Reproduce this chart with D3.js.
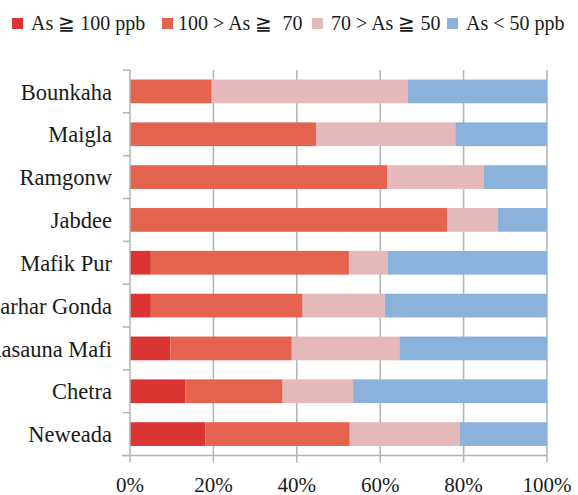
<!DOCTYPE html>
<html>
<head>
<meta charset="utf-8">
<script src="https://cdn.jsdelivr.net/npm/d3@7"></script>
<style>
html,body{margin:0;padding:0;background:#fff;}
svg{display:block;}
</style>
</head>
<body>
<svg id="chart" width="578" height="495"></svg>
<script>
const categories = ["Bounkaha","Maigla","Ramgonw","Jabdee","Mafik Pur","Sarhar Gonda","Rasauna Mafi","Chetra","Neweada"];
const seriesNames = ["As \u2267 100 ppb","100 > As \u2267  70","70 > As \u2267 50","As < 50 ppb"];
const seriesColors = ["#db3533","#e3634f","#e5b8b9","#8bb2da"];
const s1 = [0, 0, 0, 0, 5.0, 5.0, 9.7, 13.3, 18.1];
const s2 = [19.6, 44.6, 61.7, 76.1, 47.5, 36.4, 29.1, 23.3, 34.6];
const s3 = [47.0, 33.4, 23.1, 12.1, 9.3, 19.7, 25.8, 16.9, 26.3];
const s4 = [33.4, 22.0, 15.2, 11.8, 38.2, 38.9, 35.4, 46.5, 21.0];
const xTicks = [0, 20, 40, 60, 80, 100];

(function () {
const table = categories.map((c, i) => ({cat: c, k0: s1[i], k1: s2[i], k2: s3[i], k3: s4[i]}));
const keys = ["k0","k1","k2","k3"];
const stacked = d3.stack().keys(keys)(table);

const svg = d3.select("#chart");
const mLeft = 130, mRight = 547, mTop = 70, mBottom = 455.5;
const textColor = "#1a1a1a";
const fontFam = "Liberation Serif";

const x = d3.scaleLinear().domain([0, 100]).range([mLeft, mRight]);
const y = d3.scaleBand().domain(categories).range([mTop, mBottom]).paddingInner(0.446).paddingOuter(0.223);

const gridColor = "#b3b3b3";

// gridlines
svg.append("g").selectAll("line").data(xTicks.filter(d => d > 0)).join("line")
  .attr("x1", d => x(d)).attr("x2", d => x(d))
  .attr("y1", mTop).attr("y2", mBottom)
  .attr("stroke", gridColor).attr("stroke-width", 1.5);

// bars
svg.append("g").selectAll("g").data(stacked).join("g")
  .attr("fill", (d, i) => seriesColors[i])
  .selectAll("rect").data(d => d).join("rect")
  .attr("x", d => x(d[0]))
  .attr("width", d => x(d[1]) - x(d[0]))
  .attr("y", d => y(d.data.cat))
  .attr("height", y.bandwidth());

// y axis
const yAxis = svg.append("g").attr("transform", `translate(${mLeft},0)`);
yAxis.append("line").attr("x1", 0).attr("x2", 0).attr("y1", mTop).attr("y2", mBottom)
  .attr("stroke", gridColor).attr("stroke-width", 1.5);
const step = y.step();
const bounds = d3.range(categories.length + 1).map(i => mTop + i * step);
yAxis.selectAll("line.t").data(bounds).join("line").attr("class","t")
  .attr("x1", -7).attr("x2", 0).attr("y1", d => d).attr("y2", d => d)
  .attr("stroke", gridColor).attr("stroke-width", 1.5);
yAxis.selectAll("text").data(categories).join("text")
  .attr("x", -18)
  .attr("y", d => y(d) + y.bandwidth() / 2)
  .attr("dy", "0.36em")
  .attr("text-anchor", "end")
  .attr("font-family", fontFam)
  .attr("fill", textColor)
  .attr("font-size", "22.5px")
  .text(d => d);

// x axis
const xAxis = svg.append("g").attr("transform", `translate(0,${mBottom})`);
xAxis.append("line").attr("x1", mLeft - 8).attr("x2", mRight).attr("y1", 0).attr("y2", 0)
  .attr("stroke", gridColor).attr("stroke-width", 1.5);
xAxis.selectAll("line.t").data(xTicks).join("line").attr("class","t")
  .attr("x1", d => x(d)).attr("x2", d => x(d)).attr("y1", 0).attr("y2", 7)
  .attr("stroke", gridColor).attr("stroke-width", 1.5);
xAxis.selectAll("text").data(xTicks).join("text")
  .attr("x", d => x(d)).attr("y", 36)
  .attr("text-anchor", "middle")
  .attr("font-family", fontFam)
  .attr("fill", textColor)
  .attr("font-size", "21px")
  .text(d => d + "%");

// legend
const legendX = [12, 162, 312, 447];
const leg = svg.append("g");
seriesNames.forEach((n, i) => {
  const g = leg.append("g").attr("transform", `translate(${legendX[i]},0)`);
  g.append("rect").attr("x", 0).attr("y", 18).attr("width", 11).attr("height", 11).attr("fill", seriesColors[i]);
  g.append("text").attr("x", i === 1 ? 16 : 19).attr("y", 30)
    .attr("font-family", fontFam).attr("fill", textColor)
    .attr("font-size", "20px").style("white-space", "pre").text(n);
});
})();
</script>
</body>
</html>
